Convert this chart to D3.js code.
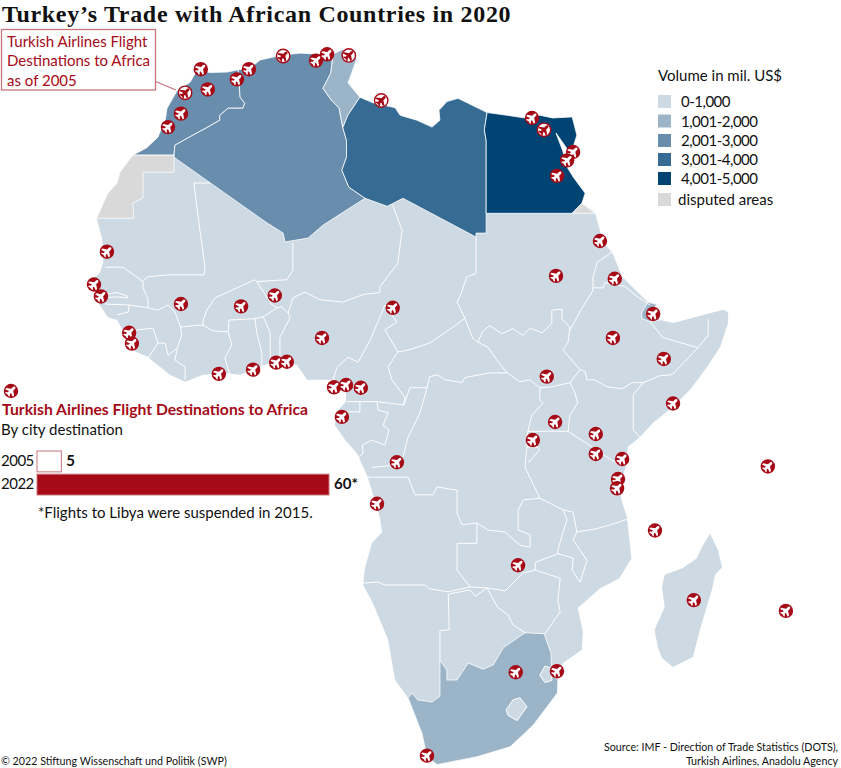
<!DOCTYPE html>
<html>
<head>
<meta charset="utf-8">
<script src="https://cdnjs.cloudflare.com/ajax/libs/d3/7.8.5/d3.min.js"></script>
<style>
  html, body { margin: 0; padding: 0; background: #fff; }
  text { font-family: Lato, sans-serif; fill: #111; }
</style>
</head>
<body>
<svg id="chart" width="841" height="768"></svg>
<script>
// outlines are lon/lat
const mainland = [[-17,21.5],[-16.3,23],[-15.8,24],[-14.8,25],[-14.5,26.05],[-13.7,27],[-13.1,27.7],[-11.6,28.4],[-10.4,29.4],[-9.6,31],[-9.4,32.1],[-8.3,33.7],[-6.9,34.45],[-6.15,35.55],[-4.75,35.3],[-2.9,35.35],[-1.7,35.55],[-0.4,35.7],[0.65,36.4],[3.15,36.85],[5,37],[7.45,36.9],[8.55,36.9],[9.5,37.3],[10.4,37.1],[11.1,36.5],[10.4,34.9],[10.15,34.4],[11.45,33.1],[12.85,32.6],[15.25,32.15],[15.8,31.45],[17.6,31],[19.25,30.35],[20.1,31],[20,31.9],[20.85,32.7],[22.05,33],[23.15,32.55],[25.2,31.7],[27.35,31.45],[29.3,31.2],[30.9,31.45],[32.3,31.2],[34.4,31.3],[34.9,29.6],[34.5,28.45],[34.1,27.95],[33.85,28.3],[32.65,29.8],[33.4,28.05],[33.85,26.55],[34.5,25.6],[35.8,24],[35.45,23],[36.85,22.1],[37.3,20.6],[37.75,19],[38.7,18.05],[39.8,15.5],[40.85,14.5],[42.6,12.85],[43.55,12.6],[43,11.9],[43.9,10.95],[45.3,10.65],[47.45,11.2],[50.7,12.05],[51.25,11.8],[51.25,10.65],[50.4,8.1],[49,5.95],[47.15,3.5],[45.3,1.65],[43.1,-0.1],[41.7,-1.65],[40.4,-2.7],[40.3,-4.45],[39.5,-7.05],[39.75,-8.5],[40.3,-10.2],[40.8,-14.6],[39.5,-16.65],[37.4,-17.7],[35,-19.7],[35.55,-22.1],[35.45,-23.9],[33.4,-25.2],[32.9,-26.5],[32.8,-28.1],[30.2,-31.1],[27.7,-33.1],[24.1,-34],[19.8,-34.7],[18.7,-34],[18.15,-31.85],[16.65,-28.55],[15.25,-26.85],[14.5,-22.9],[12.85,-19.2],[11.8,-17.35],[12,-15.6],[12.75,-13],[13.85,-11.8],[13.6,-10.2],[12.3,-5.95],[11.15,-3.4],[9.85,-1.95],[8.75,-0.35],[8.95,1.1],[9.95,2.2],[9.95,3.15],[9.3,3.9],[8.55,4.55],[5.75,4.55],[4.65,6.15],[2.8,6.75],[0.65,5.95],[-1.5,5.1],[-3.35,5.3],[-5.5,5.1],[-7.45,4.35],[-9.1,5.1],[-11.55,7.05],[-12.85,7.6],[-14.8,10.95],[-15.8,11.25],[-16.85,12.8],[-16.65,13.6],[-17.95,14.7],[-16.65,15.95],[-16.3,17],[-16.3,17.6],[-16.4,19.3]];
const madagascar = [[49.3,-12],[50.15,-13.7],[50.6,-15.5],[49.85,-16.3],[49.5,-17.85],[48.2,-21.9],[47.45,-24.6],[45.3,-25.6],[44.1,-24.7],[43.65,-23.6],[43.3,-21.9],[44.4,-19.6],[44.1,-17.55],[44.4,-16.3],[46.35,-15.6],[47.85,-14.6],[48.4,-13.45]];

const morocco = [[-13.1,27.7],[-11.6,28.4],[-10.4,29.4],[-9.6,31],[-9.4,32.1],[-8.3,33.7],[-6.9,34.45],[-6.15,35.55],[-4.75,35.3],[-2.9,35.35],[-1.7,35.55],[-1.6,34.2],[-1.5,33.1],[-1,32.55],[-1.2,32.1],[-2.8,32.1],[-3.7,31.45],[-3.7,31],[-5.1,30.3],[-6.6,29.6],[-8.55,28.65],[-8.65,27.7]];
const westernSahara = [[-17,21.5],[-16.3,23],[-15.8,24],[-14.8,25],[-14.5,26.05],[-13.7,27],[-13.1,27.7],[-8.65,27.7],[-8.65,26.05],[-12,26.05],[-12,23.55],[-13.1,23],[-13,21.5]];
const algeria = [[-1.7,35.55],[-0.4,35.7],[0.65,36.4],[3.15,36.85],[5,37],[7.45,36.9],[8.55,36.9],[8.3,35.25],[7.45,33.9],[8.4,32.8],[9.2,32.1],[9.6,30.3],[10,29.1],[10,27.5],[9.5,26.25],[10.25,24.6],[12,23.5],[7.45,20.8],[5.85,19.5],[3.35,19.1],[3.15,20],[1.3,21.1],[-8.65,27.5],[-8.65,27.7],[-8.55,28.65],[-6.6,29.6],[-5.1,30.3],[-3.7,31],[-3.7,31.45],[-2.8,32.1],[-1.2,32.1],[-1,32.55],[-1.5,33.1],[-1.6,34.2]];
const tunisia = [[8.55,36.9],[9.5,37.3],[10.4,37.1],[11.1,36.5],[10.4,34.9],[10.15,34.4],[11.45,33.1],[10.15,31.45],[9.6,30.3],[9.2,32.1],[8.4,32.8],[7.45,33.9],[8.3,35.25]];
const libya = [[11.45,33.1],[12.85,32.6],[15.25,32.15],[15.8,31.45],[17.6,31],[19.25,30.35],[20.1,31],[20,31.9],[20.85,32.7],[22.05,33],[23.15,32.55],[25.2,31.7],[24.9,30.1],[25.1,29.1],[25.1,22],[25.1,20],[24,20],[24,19.6],[16.1,23.5],[14.4,22.7],[12,23.5],[10.25,24.6],[9.5,26.25],[10,27.5],[10,29.1],[9.6,30.3],[10.15,31.45]];
const egypt = [[25.2,31.7],[27.35,31.45],[29.3,31.2],[30.9,31.45],[32.3,31.2],[34.4,31.3],[34.9,29.6],[34.5,28.45],[34.1,27.95],[33.85,28.3],[32.65,29.8],[33.4,28.05],[33.85,26.55],[34.5,25.6],[35.8,24],[35.45,23],[34.4,22],[25.1,22],[25.1,29.1],[24.9,30.1]];
const halaib = [[35.45,23],[36.85,22],[34.4,22]];
const djibouti = [[41.9,11.7],[42.6,12.85],[43.55,12.6],[43,11.9],[43.9,10.95],[42.8,10.8],[41.95,11.1]];
const southAfrica = [[32.85,-26.85],[32.8,-28.1],[30.2,-31.1],[27.7,-33.1],[24.1,-34],[19.8,-34.7],[18.7,-34],[18.15,-31.85],[16.65,-28.55],[17.1,-28.1],[17.7,-28.75],[19.25,-28.95],[20.1,-28.4],[20.1,-24.9],[20.85,-25.9],[20.85,-26.85],[21.95,-26.85],[23.15,-25.2],[24.75,-25.8],[25.85,-25.4],[26.95,-23.7],[29.3,-22.2],[31.35,-22.3],[32.1,-24.2],[32.2,-26.4]];
const eswatini = [[30.9,-26.4],[31.45,-25.5],[32.2,-25.7],[32.2,-26.9],[31.45,-27.1]];
const lesotho = [[27.25,-29.7],[28,-28.75],[28.75,-28.55],[29.5,-29.4],[28.45,-30.7],[27.45,-30.2]];

// trade volume in mil. US$, estimated from the colour class
const tradeRings = [morocco, algeria, tunisia, libya, egypt, djibouti, southAfrica];
const tradeVolumes = [2500, 2600, 1100, 3300, 4500, 1500, 1500];
const disputedRings = [westernSahara, halaib];
const enclaveRings = [eswatini, lesotho, madagascar];

const borders = [
  [[-4.75,25],[-6.5,25],[-5.85,20.3],[-5.3,16.5],[-5.4,15.7],[-9.3,15.7],[-11.55,15.5],[-12,15]],
  [[-12,15],[-14.15,16.5],[-16.1,16.5]],
  [[-12,15],[-12,14.4],[-11.45,13.1],[-11.45,12.25]],
  [[-16.1,12.65],[-13.5,12.55],[-11.45,12.25]],
  [[-16.65,13.6],[-14.8,13.85],[-13.7,13.5],[-13.7,13.3],[-14.8,13.4],[-16.65,13.3]],
  [[-13.5,12.55],[-13.6,11.8],[-14.8,11.5]],
  [[-11.45,12.25],[-10.4,12],[-9.3,12.55],[-8.55,11.8],[-8,10.4],[-7.8,9.35],[-8.3,7.95],[-8.55,6.7],[-7.45,5.95],[-7.45,4.55]],
  [[-8,10.2],[-6.15,10.4],[-5.5,10.4],[-5.5,10.95],[-5.1,12],[-4.2,13.3],[-1.85,14.35],[0.1,15.2],[0.3,15]],
  [[4.2,19],[4.2,16.2],[3.55,15.2],[0.3,15]],
  [[0.3,15],[1.2,13.65],[1.95,12.55],[2.5,12.25],[3,12.35],[3.7,11.7],[3.9,11.2],[2.8,9.1],[2.8,7]],
  [[2.5,12.25],[1,11.3],[0.1,11.1],[-2.7,10.95],[-2.8,9.7],[-4.45,9.8],[-5.5,10.4]],
  [[-2.8,9.7],[-2.4,8.3],[-3.15,6.9],[-2.6,5.1]],
  [[0.1,11.1],[0.3,9.6],[0.85,7.45],[0.85,5.95]],
  [[1,11.3],[1.75,9.6],[1.75,6.7]],
  [[-13.2,9.6],[-12.65,9.9],[-10.9,10.1],[-10.4,8.5],[-11.45,6.9]],
  [[-10.4,8.5],[-9.6,8.5],[-9.3,7.2],[-8.3,7.95]],
  [[3.7,11.7],[4.2,13.3],[5.5,13.9],[7.15,13.1],[9.6,12.85],[11.8,13.65],[13.6,13.85]],
  [[15,22.8],[16,20.3],[15.55,16.9],[13.6,14.45],[13.6,13.85]],
  [[14.15,12.55],[13.6,11.25],[12.55,8.8],[11.25,6.45],[10.15,7],[8.95,5.85],[8.55,4.55]],
  [[14.15,12.55],[15.45,10.75],[14.15,9.9],[15.55,7.55],[14.5,5.95],[14.9,4.55],[16.3,2.7],[16.2,1.85],[13.3,2.2],[10.05,2.2]],
  [[11.45,2.2],[11.45,1.1],[8.95,1.1]],
  [[13.3,2.2],[13.4,1.3],[14.5,1],[13.95,-0.35],[14.6,-0.85],[14.15,-2.5],[12.75,-1.95],[11.7,-2.5],[11.8,-3.4],[11.25,-3.8]],
  [[16.2,1.85],[16.85,3.7],[18.7,3.7],[17.95,1],[16.65,-1.65],[16.1,-3.8],[14.9,-4.7],[12.75,-4.9]],
  [[12.3,-5.95],[16.65,-5.95],[17.4,-7.85],[19.35,-7.85],[19.8,-7],[21.95,-7.35],[21.95,-9.8],[22.5,-11.05],[24.1,-10.85]],
  [[24.1,-10.85],[24.1,-13],[21.95,-13],[21.95,-15.8],[23.35,-17.55]],
  [[11.8,-17.15],[13.4,-17.05],[14.15,-17.35],[18.5,-17.35],[19,-17.75],[21,-18.05],[23.35,-17.55],[25.2,-17.65]],
  [[21,-18.3],[21.1,-21.9],[20.1,-22],[20.1,-24.9]],
  [[21,-18.3],[23.35,-17.85],[23.9,-18.5],[25.2,-17.65]],
  [[25.2,-17.65],[26.3,-19.6],[27.45,-20.4],[28,-21.4],[29.3,-22.2]],
  [[25.2,-17.65],[27.15,-17.95],[29.1,-16.1],[30.4,-15.8]],
  [[30.4,-15],[30.4,-15.8],[33.1,-16.65],[32.85,-18.9],[33.1,-20.1],[31.45,-22.3]],
  [[30.4,-15],[32.85,-14.1]],
  [[24.1,-10.85],[25.3,-11.6],[27.15,-11.8],[28.75,-13.2],[29.85,-13.4],[29.85,-12.1],[28.55,-11.6],[28.55,-9.5],[29.1,-8.4],[30.9,-8.2],[33.4,-9.45]],
  [[33.4,-9.45],[33.85,-10.5],[33.4,-11.85],[32.85,-13.7],[32.85,-14.1],[34.5,-14.55],[34.4,-15.8],[35.25,-17.05],[36,-14.8],[34.5,-12.65],[34.9,-11.8]],
  [[33.4,-9.45],[34.5,-9.7],[34.9,-11.8],[36.85,-11.5],[38.5,-11.05],[40.5,-10.4]],
  [[18.7,3.7],[19,4.9],[19.8,5.1],[20.65,4.55],[22.5,4.25],[22.8,4.8],[25.5,5.3],[27.35,5.3],[28.75,4.35],[29.85,4.55],[30.9,3.7]],
  [[30.9,3.7],[30.9,2.4],[31.25,2.05],[30.05,0.75],[29.6,-1],[33.95,-1]],
  [[30.15,-1],[30.6,-2.7],[30.9,-3],[29.6,-4.45]],
  [[29.5,-2.7],[30.6,-2.7]],
  [[29.6,-1],[29.5,-2.7],[29.3,-4.9],[30.9,-8.2]],
  [[33.95,-1],[39.25,-4.5]],
  [[33.95,-1],[34.15,0.75],[35,2.05],[34.7,3.15],[34.15,4.25]],
  [[30.9,3.7],[32.2,3.8],[34.15,4.25],[35.25,5.65]],
  [[35.25,5.65],[33.4,7.75],[33.95,8.6],[34.15,10.2],[33.3,11.05],[33.3,12.1],[32.2,12],[32.2,10.6],[31.15,9.6],[29.85,10.1],[29.1,9.3],[28,10.05],[26.8,9.5],[25.5,10.35],[24.75,9.8],[24.2,8.6]],
  [[34.15,9.9],[35.45,12.2],[36.55,13.9],[36.65,14.35],[36.65,15.5],[37.1,17],[38.7,18.05]],
  [[36.65,14.35],[37.75,14.35],[37.95,14.9],[40.1,14.5],[41.4,13.45],[42.8,12.55]],
  [[42.8,10.8],[44.2,9.1],[48,8],[45.2,5.1],[43.9,5],[42.05,4.25],[41,2.95],[41,-0.85],[41.7,-1.65]],
  [[48,8],[49.1,9.35],[49.1,11.1]],
  [[42.05,4.25],[40.9,4.25],[39.8,3.6],[38.15,3.8],[36.85,4.55],[36,4.55],[35.8,5.45],[35.25,5.65]],
  [[24.2,8.6],[25.3,8.05],[26.25,6.7],[27.35,5.3]],
  [[24,19.6],[24,15.85],[23,15.5],[22.25,13.4],[21.95,12.85],[22.8,11.15],[23.65,9],[24.2,8.6]],
  [[22.8,11.15],[21.5,10.2],[19,8.5],[16.65,7.75],[15.55,7.55]]
];

const legendLabels = ["0-1,000", "1,001-2,000", "2,001-3,000", "3,001-4,000", "4,001-5,000"];
const classColors = ["#cdd9e3", "#9bb4c8", "#688dad", "#366b93", "#004474"];
const classBreaks = [1001, 2001, 3001, 4001];
const disputedColor = "#d9d9d9";

// flight destinations as lon/lat
const flights2005 = [[-7.45,33.5],[3.15,36.75],[10.25,36.8],[13.75,32.8],[31.35,30.1]];
const flights2022 = [[-5.75,35.6],[-5,33.8],[-7.9,31.6],[-9.3,30.35],[-1.85,34.7],[-0.55,35.6],[6.7,36.35],[7.9,36.9],[30.05,31.2],[34.5,28],[33.85,27.2],[32.75,25.7],[37.4,19.2],[32.65,15.6],[39,15.3],[-15.9,18.1],[-17.3,14.7],[-16.55,13.45],[-13.5,9.6],[-13.2,8.45],[-7.9,12.65],[-1.4,12.4],[2.25,13.55],[7.35,9.05],[-3.8,5.2],[-0.1,5.65],[2.4,6.4],[3.55,6.5],[8.65,3.75],[9.95,4],[11.55,3.7],[9.5,0.55],[15,12.25],[15.45,-4.35],[13.3,-8.8],[31.65,4.9],[32.55,0],[30.15,-1.95],[36.95,-1.3],[36.95,-3.45],[39.8,-4],[39.35,-6.15],[39.25,-7.15],[38.8,9.05],[43.15,11.6],[44.3,6.8],[45.3,2],[28.55,-15.3],[28.3,-26.1],[32.75,-26],[18.7,-33.9],[55.55,-4.8],[43.35,-11.65],[47.55,-18.9],[57.5,-20]];

const barYears = ["2005", "2022"];
const barCounts = [5, 60];
const barLabels = ["5", "60*"];

const red = "#a50a16";
const paleRed = "#c9757d";
const planePath = "M0,-5.8C1,-5.8 1.4,-4.8 1.4,-3.8L1.4,-1.7 5.4,1 5.4,2.8 1.4,1.4 1.4,3.1 2.8,4.3 2.8,5.5 0,4.8 -2.8,5.5 -2.8,4.3 -1.4,3.1 -1.4,1.4 -5.4,2.8 -5.4,1 -1.4,-1.7 -1.4,-3.8C-1.4,-4.8 -1,-5.8 0,-5.8Z";

const svg = d3.select("#chart");
const projection = d3.geoMercator().scale(530).translate([254, 422]);
const line = d3.line().x(d => projection(d)[0]).y(d => projection(d)[1]);
const color = d3.scaleThreshold().domain(classBreaks).range(classColors);

// land
svg.append("path").attr("d", line(mainland) + "Z").attr("fill", classColors[0]);

svg.append("g").selectAll("path")
  .data(enclaveRings.slice(2))
  .join("path")
    .attr("d", d => line(d) + "Z")
    .attr("fill", classColors[0]);

svg.append("g").selectAll("path")
  .data(tradeRings)
  .join("path")
    .attr("d", d => line(d) + "Z")
    .attr("fill", (d, i) => color(tradeVolumes[i]))
    .attr("stroke", "#fff")
    .attr("stroke-width", 0.8)
    .attr("stroke-linejoin", "round");

svg.append("g").selectAll("path")
  .data(disputedRings)
  .join("path")
    .attr("d", d => line(d) + "Z")
    .attr("fill", disputedColor)
    .attr("stroke", "#fff")
    .attr("stroke-width", 0.8);

svg.append("g").selectAll("path")
  .data(enclaveRings.slice(0, 2))
  .join("path")
    .attr("d", d => line(d) + "Z")
    .attr("fill", classColors[0])
    .attr("stroke", "#fff")
    .attr("stroke-width", 1);

svg.append("g").selectAll("path")
  .data(borders)
  .join("path")
    .attr("d", line)
    .attr("fill", "none")
    .attr("stroke", "#fff")
    .attr("stroke-width", 1)
    .attr("stroke-linejoin", "round");

// callout, below the markers
svg.append("path")
  .attr("d", "M155.5,81.5L176,90")
  .attr("fill", "none")
  .attr("stroke", paleRed)
  .attr("stroke-width", 1.3);
svg.append("rect")
  .attr("x", 1.5).attr("y", 29.5).attr("width", 154).attr("height", 60.5)
  .attr("fill", "#fff")
  .attr("stroke", paleRed)
  .attr("stroke-width", 1.3);
svg.append("g").selectAll("text")
  .data(["Turkish Airlines Flight", "Destinations to Africa", "as of 2005"])
  .join("text")
    .attr("x", 7)
    .attr("y", (d, i) => 47 + i * 19.3)
    .attr("font-size", 15)
    .style("fill", red)
    .text(d => d);

// markers
function plane(sel, xy, old) {
  const g = sel.append("g").attr("transform", "translate(" + xy + ")");
  g.append("circle")
    .attr("r", old ? 6.7 : 7.2)
    .attr("fill", old ? "#fff" : red)
    .attr("stroke", old ? red : "none")
    .attr("stroke-width", old ? 1.4 : 0);
  g.append("path")
    .attr("d", planePath)
    .attr("transform", "rotate(45)")
    .attr("fill", old ? red : "#fff");
}
const markers = svg.append("g");
flights2022.forEach(d => plane(markers, projection(d), false));
flights2005.forEach(d => plane(markers, projection(d), true));
plane(markers, [11, 391], false);

// title
svg.append("text")
  .attr("x", 2).attr("y", 21.5)
  .style("font-family", "'Liberation Serif', serif")
  .attr("font-weight", "bold")
  .attr("font-size", 24)
  .attr("letter-spacing", 0.68)
  .text("Turkey’s Trade with African Countries in 2020");

// legend
const legend = svg.append("g");
const legendY = d3.scaleOrdinal().domain([0,1,2,3,4,5]).range([95, 114.5, 134, 153, 172, 193]);
legend.append("text").attr("x", 658).attr("y", 81).attr("font-size", 15).text("Volume in mil. US$");
legend.selectAll("rect")
  .data(classColors.concat(disputedColor))
  .join("rect")
    .attr("x", 658)
    .attr("y", (d, i) => legendY(i))
    .attr("width", 13)
    .attr("height", 13)
    .attr("fill", d => d);
legend.selectAll("text.lab")
  .data(legendLabels.concat("disputed areas"))
  .join("text")
    .attr("class", "lab")
    .attr("x", (d, i) => i === 5 ? 678 : 681)
    .attr("y", (d, i) => legendY(i) + 12)
    .attr("font-size", 15)
    .attr("letter-spacing", (d, i) => i === 5 ? 0 : -0.5)
    .text(d => d);

// flight count panel
svg.append("text").attr("x", 2).attr("y", 415).attr("font-size", 15.7).attr("font-weight", "bold")
  .style("fill", red).text("Turkish Airlines Flight Destinations to Africa");
svg.append("text").attr("x", 1).attr("y", 435).attr("font-size", 15).text("By city destination");

const xBar = d3.scaleLinear().domain([0, 60]).range([0, 292]);
const yBar = d3.scaleBand().domain(barYears).range([451, 495]).paddingInner(0.1);
const bars = svg.append("g").selectAll("g")
  .data(barYears)
  .join("g")
    .attr("transform", d => "translate(37," + yBar(d) + ")");
bars.append("rect")
  .attr("width", (d, i) => xBar(barCounts[i]))
  .attr("height", yBar.bandwidth())
  .attr("fill", (d, i) => i === 0 ? "#fff" : red)
  .attr("stroke", paleRed)
  .attr("stroke-width", 1);
bars.append("text")
  .attr("x", -36)
  .attr("y", 15)
  .attr("font-size", 15)
  .attr("letter-spacing", -0.5)
  .text(d => d);
bars.append("text")
  .attr("x", (d, i) => xBar(barCounts[i]) + 5)
  .attr("y", 15)
  .attr("font-size", 15)
  .attr("font-weight", "bold")
  .text((d, i) => barLabels[i]);

svg.append("text").attr("x", 38).attr("y", 518).attr("font-size", 15)
  .text("*Flights to Libya were suspended in 2015.");

// footer
svg.append("text").attr("x", 1).attr("y", 765).attr("font-size", 10.7)
  .text("© 2022 Stiftung Wissenschaft und Politik (SWP)");
svg.append("g").selectAll("text")
  .data(["Source: IMF - Direction of Trade Statistics (DOTS),", "Turkish Airlines, Anadolu Agency"])
  .join("text")
    .attr("x", 838)
    .attr("y", (d, i) => 751 + i * 14)
    .attr("text-anchor", "end")
    .attr("font-size", 10.7)
    .text(d => d);
</script>
</body>
</html>
